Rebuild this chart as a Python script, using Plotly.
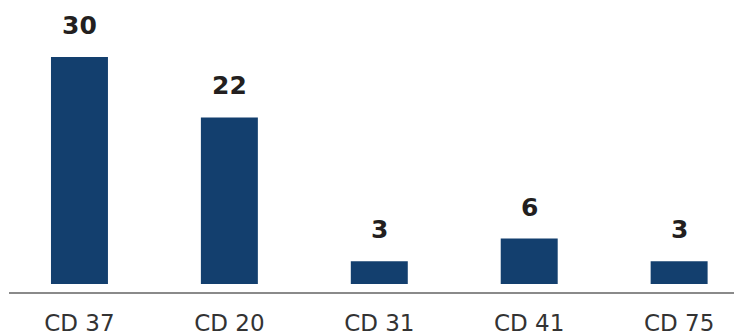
import plotly.graph_objects as go

# Counts per district
districts = ["CD 37", "CD 20", "CD 31", "CD 41", "CD 75"]
counts = [30, 22, 3, 6, 3]

BAR_COLOR = "#133f6e"
LABEL_COLOR = "#231f20"
TICK_COLOR = "#333333"

fig = go.Figure()
fig.add_trace(
    go.Bar(
        x=list(range(len(districts))),
        y=counts,
        marker=dict(color=BAR_COLOR, line=dict(width=0)),
        width=0.38,
        hoverinfo="skip",
    )
)

# Value labels above each bar
for i, v in enumerate(counts):
    fig.add_annotation(
        x=i, y=v, text=f"<b>{v}</b>", showarrow=False,
        yanchor="bottom", yshift=15,
        font=dict(family="DejaVu Sans", size=25, color=LABEL_COLOR),
    )

fig.update_layout(
    width=734, height=335,
    margin=dict(l=9, r=0, t=0, b=43),
    paper_bgcolor="white", plot_bgcolor="white",
    showlegend=False,
    xaxis=dict(
        range=[-0.47, 4.366],
        tickmode="array",
        tickvals=list(range(len(districts))),
        ticktext=districts,
        showgrid=False, zeroline=False,
        showline=True, linecolor="#8a8a8a", linewidth=2,
        ticks="", ticklabelstandoff=9,
        tickfont=dict(family="DejaVu Sans", size=23, color=TICK_COLOR),
        automargin=False,
    ),
    yaxis=dict(
        range=[-1.057, 37.52],
        visible=False, showgrid=False, zeroline=False,
        automargin=False,
    ),
)

fig.write_html("out.html")
